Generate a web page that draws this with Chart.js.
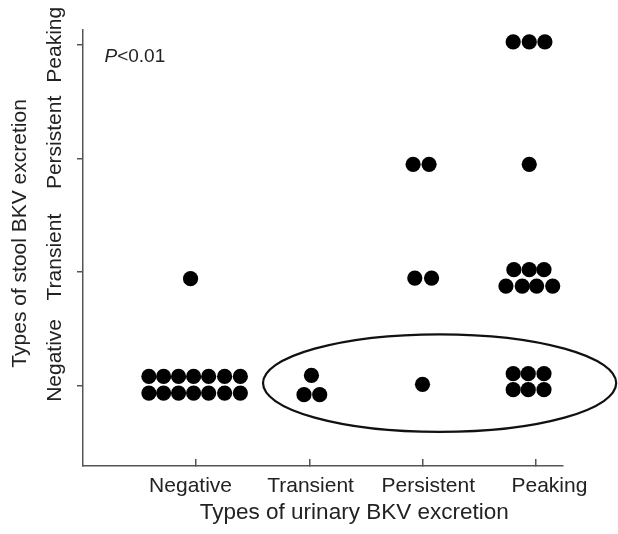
<!DOCTYPE html>
<html>
<head>
<meta charset="utf-8">
<script src="https://cdn.jsdelivr.net/npm/chart.js@4.4.1/dist/chart.umd.min.js"></script>
<style>
  html, body { margin: 0; padding: 0; background: #fff; }
  #wrap { width: 618px; height: 534px; }
</style>
</head>
<body>
<div id="wrap"><canvas id="bkvChart" width="618" height="534"></canvas></div>
<script>
// excretion types on both axes
var urineTypes = ['Negative', 'Transient', 'Persistent', 'Peaking'];
var stoolTypes = ['Negative', 'Transient', 'Persistent', 'Peaking'];

// the names are not centred on the ticks in the figure, so they get their own positions
var urineLabelPos = [-0.05, 1.01, 2.05, 3.12];
var stoolLabelPos = [0.22, 1.13, 2.14, 3.0];

// one dot per patient, x = urinary type, y = stool type (dots sit side by side)
var negUrineX = [-0.05, -0.418, -0.288, -0.156, -0.023, 0.110, 0.251, 0.390,
                 -0.418, -0.288, -0.156, -0.023, 0.110, 0.251, 0.390];
var negUrineY = [0.94, 0.079, 0.079, 0.079, 0.079, 0.079, 0.079, 0.079,
                 -0.068, -0.068, -0.068, -0.068, -0.068, -0.068, -0.068];
var transUrineX = [1.018, 0.952, 1.091];
var transUrineY = [0.088, -0.082, -0.082];
var persUrineX = [1.916, 2.057, 1.931, 2.079, 1.999];
var persUrineY = [1.947, 1.947, 0.945, 0.945, 0.009];
var peakUrineX = [2.800, 2.942, 3.080, 2.942, 2.806, 2.942, 3.072,
                  2.736, 2.880, 3.007, 3.149, 2.800, 2.933, 3.072, 2.800, 2.933, 3.072];
var peakUrineY = [3.025, 3.025, 3.025, 1.947, 1.019, 1.019, 1.019,
                  0.875, 0.875, 0.875, 0.875, 0.103, 0.103, 0.103, -0.038, -0.038, -0.038];

// ring round the stool-negative patients and the p value note
var ringX = 2.15, ringY = 0.02, ringRx = 1.56, ringRy = 0.43;
var pNoteX = -0.81, pNoteY = 2.85;

var fam = "'Liberation Sans', Arial, Helvetica, sans-serif";
var textColor = '#222';
var axisColor = '#555';

function toPoints(xs, ys) {
  return xs.map(function (x, i) { return { x: x, y: ys[i] }; });
}

var allDots = [].concat(
  toPoints(negUrineX, negUrineY),
  toPoints(transUrineX, transUrineY),
  toPoints(persUrineX, persUrineY),
  toPoints(peakUrineX, peakUrineY)
);

// chart.js puts a centred rotated label widest/2 away from the axis, so cancel that
var mctx = document.createElement('canvas').getContext('2d');
mctx.font = '21px ' + fam;
var widest = Math.max.apply(null, stoolTypes.map(function (t) { return mctx.measureText(t).width; }));

var notes = {
  id: 'notes',
  afterDatasetsDraw: function (chart) {
    var ctx = chart.ctx, xs = chart.scales.x, ys = chart.scales.y;
    ctx.save();
    var cx = xs.getPixelForValue(ringX), cy = ys.getPixelForValue(ringY);
    var rx = xs.getPixelForValue(ringX + ringRx) - cx;
    var ry = cy - ys.getPixelForValue(ringY + ringRy);
    ctx.beginPath();
    ctx.ellipse(cx, cy, rx, ry, 0, 0, 2 * Math.PI);
    ctx.lineWidth = 2.2;
    ctx.strokeStyle = '#111';
    ctx.stroke();

    var px = xs.getPixelForValue(pNoteX), py = ys.getPixelForValue(pNoteY);
    ctx.fillStyle = textColor;
    ctx.textBaseline = 'alphabetic';
    ctx.textAlign = 'left';
    ctx.font = 'italic 19px ' + fam;
    ctx.fillText('P', px, py);
    var w = ctx.measureText('P').width;
    ctx.font = '19px ' + fam;
    ctx.fillText('<0.01', px + w, py);
    ctx.restore();
  }
};

var tickFont = { family: fam, size: 21 };

new Chart(document.getElementById('bkvChart'), {
  type: 'scatter',
  data: {
    datasets: [{
      data: allDots,
      xAxisID: 'x',
      yAxisID: 'y',
      backgroundColor: '#000',
      borderWidth: 0,
      pointRadius: 7.6
    }]
  },
  options: {
    responsive: false,
    animation: false,
    events: [],
    layout: { padding: { left: 0, top: 30, right: 55, bottom: 0 } },
    plugins: { legend: { display: false }, tooltip: { enabled: false } },
    scales: {
      x: {
        type: 'linear', position: 'bottom', min: -1, max: 3.24,
        afterBuildTicks: function (s) { s.ticks = urineTypes.map(function (t, i) { return { value: i }; }); },
        ticks: { display: false },
        grid: { drawOnChartArea: false, tickLength: -7, color: axisColor, lineWidth: 1.5 },
        border: { color: axisColor, width: 1.5 },
        afterFit: function (s) { s.height = 0; }
      },
      xl: {
        type: 'linear', position: 'bottom', weight: 1, min: -1, max: 3.24,
        afterBuildTicks: function (s) { s.ticks = urineLabelPos.map(function (v) { return { value: v }; }); },
        ticks: {
          callback: function (v, i) { return urineTypes[i]; },
          autoSkip: false, maxRotation: 0, padding: 8,
          font: tickFont, color: textColor
        },
        grid: { display: false, drawTicks: false },
        border: { display: false },
        title: {
          // leading spaces push the title right, as in the figure
          display: true, text: '          Types of urinary BKV excretion',
          font: { family: fam, size: 22.5 }, color: textColor, padding: { top: 0, bottom: 8 }
        },
        afterFit: function (s) { s.height = 68; }
      },
      y: {
        type: 'linear', position: 'left', min: -0.71, max: 3.13,
        afterBuildTicks: function (s) { s.ticks = stoolTypes.map(function (t, i) { return { value: i }; }); },
        ticks: { display: false },
        grid: { drawOnChartArea: false, tickLength: 6, color: axisColor, lineWidth: 1.5 },
        border: { color: axisColor, width: 1.5 },
        afterFit: function (s) { s.width = 6; }
      },
      yl: {
        type: 'linear', position: 'left', weight: 1, min: -0.71, max: 3.13,
        afterBuildTicks: function (s) { s.ticks = stoolLabelPos.map(function (v) { return { value: v }; }); },
        ticks: {
          callback: function (v, i) { return stoolTypes[i]; },
          autoSkip: false, minRotation: 90, maxRotation: 90, crossAlign: 'center',
          padding: 22 - widest / 2,
          font: tickFont, color: textColor
        },
        grid: { display: false, drawTicks: false },
        border: { display: false },
        title: {
          display: true, text: '     Types of stool BKV excretion',
          font: tickFont, color: textColor, padding: { top: 8, bottom: 0 }
        },
        afterFit: function (s) { s.width = 77; }
      }
    }
  },
  plugins: [notes]
});
</script>
</body>
</html>
